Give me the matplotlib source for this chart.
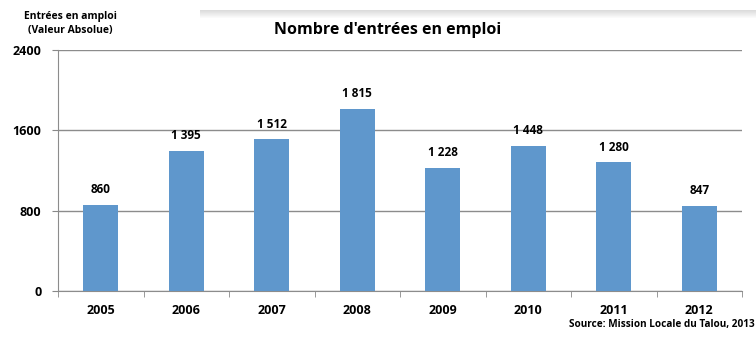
import numpy as np
import matplotlib
matplotlib.use('Agg')
import matplotlib.pyplot as plt
from matplotlib.patches import Rectangle

years = ['2005', '2006', '2007', '2008', '2009', '2010', '2011', '2012']
entrees = [860, 1395, 1512, 1815, 1228, 1448, 1280, 847]
yticks = [0, 800, 1600, 2400]

plt.rcParams['font.family'] = ['Open Sans', 'DejaVu Sans']
plt.rcParams['font.weight'] = 'bold'

fig = plt.figure(figsize=(7.56, 3.43), dpi=100)
ax = fig.add_axes([58 / 756, 1 - 291 / 343, (742 - 58) / 756, (291 - 50) / 343])

x = np.arange(len(years))
ax.bar(x, entrees, width=0.41, color='#5F97CC', zorder=3)

# value labels above each bar, with a space as thousands separator
for xi, v in zip(x, entrees):
    txt = f'{v:,}'.replace(',', ' ')
    ax.text(xi, v + 85, txt, ha='center', va='bottom', fontsize=8.5, fontweight='bold')

ax.set_xlim(-0.5, len(years) - 0.5)
ax.set_ylim(0, 2400)
ax.set_yticks(yticks)
ax.set_yticklabels([str(t) for t in yticks], fontsize=9, fontweight='bold')
ax.set_xticks(x)
ax.set_xticklabels(years, fontsize=9, fontweight='bold')
ax.tick_params(axis='x', length=0, pad=9)
ax.tick_params(axis='y', length=4, color='#888888', pad=8)

# category separators on the x axis
ax.set_xticks(np.arange(-0.5, len(years)), minor=True)
ax.tick_params(axis='x', which='minor', length=4, color='#888888', direction='out')

ax.grid(axis='y', color='#8c8c8c', linewidth=1, zorder=0)
for side in ['top', 'right']:
    ax.spines[side].set_visible(False)
for side in ['left', 'bottom']:
    ax.spines[side].set_color('#8c8c8c')

fig.text(388 / 756, 1 - 30 / 343, "Nombre d'entrées en emploi", ha='center', va='center',
         fontsize=11.5, fontweight='bold')
fig.text(70 / 756, 1 - 17 / 343, 'Entrées en amploi', ha='center', va='center',
         fontsize=7.5, fontweight='bold')
fig.text(70 / 756, 1 - 30 / 343, '(Valeur Absolue)', ha='center', va='center',
         fontsize=7.5, fontweight='bold')
fig.text(755 / 756, 1 - 324 / 343, 'Source: Mission Locale du Talou, 2013', ha='right',
         va='center', fontsize=7.2, fontweight='bold')

# soft shadow under the box edge along the top
for i in range(8):
    a = 0.22 * (1 - i / 8)
    fig.patches.append(Rectangle((200 / 756, 1 - (11 + i) / 343), 1, 1 / 343,
                                 transform=fig.transFigure, color='#606060', alpha=a,
                                 linewidth=0))

fig.savefig('out.png', dpi=100)
